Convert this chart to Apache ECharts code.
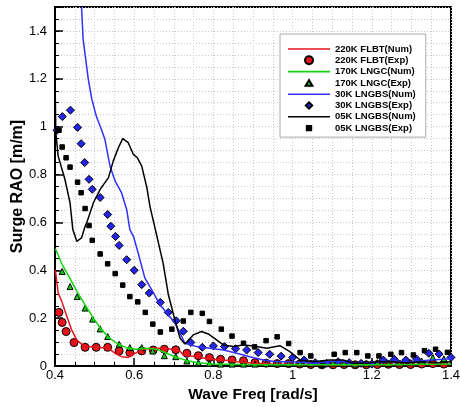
<!DOCTYPE html>
<html>
<head>
<meta charset="utf-8">
<script src="https://cdn.jsdelivr.net/npm/echarts@6/dist/echarts.min.js"></script>
<style>
  html, body { margin: 0; padding: 0; background: #fff; }
  #chart { width: 460px; height: 407px; }
</style>
</head>
<body>
<div id="chart"></div>
<script>
// 220K FLBT
var flbtNumFreq = [0.401, 0.402, 0.408, 0.417, 0.43, 0.442, 0.455, 0.472, 0.505, 0.535, 0.552, 0.568, 0.585, 0.602, 0.623, 0.648, 0.682, 0.716, 0.724, 0.758, 0.791, 0.825, 0.859, 0.901, 0.943, 1.0, 1.1, 1.2, 1.3, 1.4];
var flbtNumRao  = [0.4, 0.395, 0.305, 0.27, 0.207, 0.151, 0.109, 0.084, 0.078, 0.074, 0.053, 0.039, 0.036, 0.053, 0.07, 0.074, 0.074, 0.062, 0.046, 0.039, 0.028, 0.025, 0.018, 0.011, 0.008, 0.006, 0.005, 0.005, 0.006, 0.006];
var flbtExpFreq = [0.41, 0.418, 0.428, 0.448, 0.476, 0.504, 0.533, 0.562, 0.589, 0.619, 0.648, 0.676, 0.705, 0.733, 0.762, 0.79, 0.818, 0.847, 0.876, 0.905, 0.933, 0.961, 0.99, 1.018, 1.046, 1.074, 1.102, 1.13, 1.158, 1.186, 1.214, 1.242, 1.27, 1.298, 1.326, 1.354, 1.382];
var flbtExpRao  = [0.224, 0.182, 0.144, 0.098, 0.078, 0.078, 0.078, 0.063, 0.056, 0.063, 0.067, 0.07, 0.068, 0.053, 0.043, 0.035, 0.028, 0.025, 0.022, 0.014, 0.012, 0.01, 0.01, 0.008, 0.006, 0.005, 0.005, 0.006, 0.005, 0.005, 0.006, 0.007, 0.006, 0.006, 0.008, 0.01, 0.008];

// 170K LNGC
var lngcNumFreq = [0.401, 0.418, 0.438, 0.456, 0.476, 0.495, 0.514, 0.535, 0.556, 0.581, 0.606, 0.632, 0.657, 0.682, 0.707, 0.73, 0.76, 0.8, 0.9, 1.0, 1.1, 1.2, 1.3, 1.4];
var lngcNumRao  = [0.49, 0.425, 0.365, 0.31, 0.255, 0.205, 0.16, 0.12, 0.095, 0.076, 0.07, 0.074, 0.07, 0.053, 0.036, 0.024, 0.014, 0.008, 0.005, 0.005, 0.006, 0.005, 0.006, 0.008];
var lngcExpFreq = [0.418, 0.438, 0.456, 0.476, 0.495, 0.514, 0.533, 0.562, 0.589, 0.619, 0.647, 0.676, 0.705, 0.733, 0.762, 0.79, 0.818, 0.847, 0.876, 0.905, 0.933, 0.961, 0.99, 1.018, 1.046, 1.074, 1.102, 1.13, 1.158, 1.186, 1.214, 1.242, 1.27, 1.298, 1.326, 1.354, 1.382];
var lngcExpRao  = [0.395, 0.332, 0.29, 0.242, 0.196, 0.155, 0.123, 0.091, 0.077, 0.077, 0.063, 0.043, 0.039, 0.021, 0.014, 0.011, 0.008, 0.008, 0.008, 0.008, 0.01, 0.012, 0.01, 0.012, 0.01, 0.008, 0.012, 0.01, 0.008, 0.01, 0.014, 0.01, 0.012, 0.014, 0.02, 0.035, 0.03];

// 30K LNGBS
var bs30NumFreq = [0.467, 0.471, 0.484, 0.493, 0.505, 0.514, 0.526, 0.539, 0.552, 0.568, 0.581, 0.589, 0.598, 0.61, 0.627, 0.644, 0.665, 0.686, 0.703, 0.716, 0.728, 0.758, 0.791, 0.825, 0.859, 0.892, 0.926, 0.96, 0.993, 1.03, 1.06, 1.1, 1.13, 1.16, 1.2, 1.25, 1.3, 1.35, 1.4];
var bs30NumRao  = [1.5, 1.366, 1.199, 1.115, 1.04, 1.003, 0.947, 0.835, 0.772, 0.724, 0.654, 0.57, 0.542, 0.472, 0.367, 0.319, 0.256, 0.214, 0.179, 0.137, 0.095, 0.081, 0.074, 0.067, 0.053, 0.039, 0.025, 0.018, 0.018, 0.015, 0.012, 0.02, 0.018, 0.012, 0.015, 0.02, 0.018, 0.025, 0.03];
var bs30ExpFreq = [0.405, 0.4185, 0.439, 0.457, 0.466, 0.475, 0.486, 0.494, 0.514, 0.533, 0.541, 0.553, 0.562, 0.581, 0.6, 0.619, 0.638, 0.666, 0.686, 0.706, 0.724, 0.743, 0.772, 0.8, 0.828, 0.856, 0.884, 0.913, 0.942, 0.971, 1.0, 1.029, 1.057, 1.086, 1.115, 1.143, 1.173, 1.2, 1.229, 1.257, 1.286, 1.313, 1.344, 1.37, 1.4];
var bs30ExpRao  = [0.985, 1.042, 1.069, 0.997, 0.929, 0.85, 0.78, 0.738, 0.704, 0.633, 0.584, 0.541, 0.504, 0.444, 0.4, 0.34, 0.305, 0.266, 0.224, 0.189, 0.145, 0.098, 0.078, 0.084, 0.081, 0.072, 0.067, 0.056, 0.049, 0.041, 0.035, 0.025, 0.014, 0.011, 0.018, 0.014, 0.011, 0.008, 0.025, 0.028, 0.025, 0.029, 0.053, 0.05, 0.036];

// 05K LNGBS
var bs05NumFreq = [0.4, 0.401, 0.402, 0.408, 0.425, 0.438, 0.445, 0.455, 0.467, 0.476, 0.48, 0.497, 0.514, 0.535, 0.547, 0.56, 0.571, 0.585, 0.598, 0.608, 0.619, 0.632, 0.64, 0.652, 0.673, 0.686, 0.703, 0.716, 0.728, 0.749, 0.77, 0.787, 0.808, 0.825, 0.85, 0.876, 0.901, 0.935, 0.968, 0.993, 1.019, 1.052, 1.094, 1.128, 1.153, 1.187, 1.212, 1.246, 1.288, 1.33, 1.364, 1.4];
var bs05NumRao  = [1.2, 1.1, 0.975, 0.877, 0.78, 0.682, 0.57, 0.521, 0.535, 0.584, 0.598, 0.682, 0.738, 0.787, 0.856, 0.912, 0.95, 0.933, 0.884, 0.87, 0.835, 0.745, 0.665, 0.58, 0.43, 0.3, 0.19, 0.116, 0.092, 0.13, 0.144, 0.134, 0.109, 0.088, 0.081, 0.088, 0.084, 0.074, 0.085, 0.06, 0.025, 0.018, 0.025, 0.025, 0.011, 0.011, 0.018, 0.018, 0.014, 0.018, 0.014, 0.018];
var bs05ExpFreq = [0.41, 0.418, 0.428, 0.438, 0.457, 0.466, 0.476, 0.486, 0.494, 0.514, 0.533, 0.552, 0.571, 0.589, 0.609, 0.628, 0.647, 0.666, 0.695, 0.724, 0.743, 0.772, 0.79, 0.82, 0.847, 0.876, 0.904, 0.933, 0.961, 0.99, 1.019, 1.046, 1.076, 1.105, 1.133, 1.162, 1.19, 1.218, 1.248, 1.275, 1.305, 1.333, 1.361, 1.391];
var bs05ExpRao  = [0.985, 0.915, 0.87, 0.831, 0.768, 0.724, 0.658, 0.587, 0.525, 0.468, 0.427, 0.386, 0.338, 0.29, 0.268, 0.224, 0.175, 0.142, 0.154, 0.188, 0.224, 0.22, 0.186, 0.154, 0.125, 0.095, 0.08, 0.106, 0.122, 0.094, 0.056, 0.042, 0.004, 0.049, 0.056, 0.056, 0.042, 0.042, 0.049, 0.056, 0.046, 0.064, 0.07, 0.057];

var xTicks = [0.4, 0.6, 0.8, 1, 1.2, 1.4];
var yTicks = [0, 0.2, 0.4, 0.6, 0.8, 1, 1.2, 1.4];

function pairs(xs, ys) {
  return xs.map(function (x, i) { return [x, ys[i]]; });
}

var chart = echarts.init(document.getElementById('chart'), null, { renderer: 'canvas' });
var font = "'Liberation Sans', Arial, sans-serif";
var gridLine = { show: true, lineStyle: { color: '#c8c8c8', type: [1, 2], width: 1 } };

// legend icons: 8x8 box made by the two bare moveTo's, shape drawn inside it
var iconLine = 'path://M0,0H42V1.6H0Z';
var iconTri = 'path://M0,0M8,8M4,1.2L7.4,6.8H0.6Z';
var iconDia = 'path://M0,0M8,8M4,0.8L7.2,4L4,7.2L0.8,4Z';
var iconSq = 'path://M0,0M8,8M1.8,1.8H6.2V6.2H1.8Z';

function lineSeries(name, color, xs, ys) {
  return {
    name: name, type: 'line', xAxisIndex: 0, yAxisIndex: 0,
    data: pairs(xs, ys), symbol: 'none', smooth: false,
    lineStyle: { color: color, width: 1.5 }, itemStyle: { color: color }
  };
}
function expSeries(name, symbol, size, color, xs, ys) {
  return {
    name: name, type: 'scatter', xAxisIndex: 0, yAxisIndex: 0,
    data: pairs(xs, ys), symbol: symbol, symbolSize: size,
    itemStyle: { color: color, borderColor: '#000', borderWidth: 1, opacity: 1 }
  };
}

var option = {
  animation: false,
  textStyle: { fontFamily: font },
  grid: { left: 55, right: 9, top: 7, bottom: 41, outerBoundsMode: 'none', containLabel: false,
          show: true, borderColor: '#000', borderWidth: 2, backgroundColor: 'transparent' },
  legend: {
    orient: 'vertical', left: 280, top: 34,
    itemWidth: 42, itemHeight: 8, itemGap: 1.3,
    padding: [10, 10, 4, 8],
    borderColor: '#aaa', borderWidth: 1, backgroundColor: '#fff',
    textStyle: { fontFamily: font, fontWeight: 'bold', fontSize: 9.5, color: '#000' },
    data: [
      { name: '220K FLBT(Num)', icon: iconLine },
      { name: '220K FLBT(Exp)', icon: 'circle' },
      { name: '170K LNGC(Num)', icon: iconLine },
      { name: '170K LNGC(Exp)', icon: iconTri },
      { name: '30K LNGBS(Num)', icon: iconLine },
      { name: '30K LNGBS(Exp)', icon: iconDia },
      { name: '05K LNGBS(Num)', icon: iconLine },
      { name: '05K LNGBS(Exp)', icon: iconSq }
    ]
  },
  xAxis: {
    type: 'value', min: 0.4, max: 1.4, interval: 0.2,
    name: 'Wave Freq [rad/s]', nameLocation: 'middle', nameGap: 21,
    nameTextStyle: { fontFamily: font, fontWeight: 'bold', fontSize: 15.5, color: '#000' },
    axisLine: { show: true, onZero: false, lineStyle: { color: '#000', width: 2 } },
    axisTick: { show: true, inside: true, length: 8, lineStyle: { color: '#000', width: 1.5 } },
    minorTick: { show: true, splitNumber: 4, length: 4, lineStyle: { color: '#000', width: 1 } },
    splitLine: gridLine, minorSplitLine: gridLine,
    axisLabel: {
      fontFamily: font, fontSize: 13, color: '#000', margin: 3,
      formatter: function (v) { return xTicks.indexOf(+v.toFixed(2)) >= 0 ? String(+v.toFixed(2)) : ''; }
    }
  },
  yAxis: [{
    type: 'value', min: 0, max: 1.5, interval: 0.05,
    name: 'Surge RAO [m/m]', nameLocation: 'middle', nameGap: 29, nameMoveOverlap: false,
    nameTextStyle: { fontFamily: font, fontWeight: 'bold', fontSize: 16, color: '#000' },
    axisLine: { show: true, onZero: false, lineStyle: { color: '#000', width: 2 } },
    axisTick: { show: true, inside: true, length: 4, lineStyle: { color: '#000', width: 1 } },
    splitLine: gridLine,
    axisLabel: {
      fontFamily: font, fontSize: 13, color: '#000', margin: 8,
      formatter: function (v) { var r = +v.toFixed(2); return yTicks.indexOf(r) >= 0 ? String(r) : ''; }
    }
  }, {
    type: 'value', min: 0, max: 1.5, interval: 0.2, position: 'left',
    axisLine: { show: false },
    axisTick: { show: true, inside: true, length: 8, lineStyle: { color: '#000', width: 1.5 } },
    splitLine: { show: false },
    axisLabel: { show: false }
  }],
  series: [
    lineSeries('220K FLBT(Num)', '#e8141b', flbtNumFreq, flbtNumRao),
    expSeries('220K FLBT(Exp)', 'circle', 8, '#e8141b', flbtExpFreq, flbtExpRao),
    lineSeries('170K LNGC(Num)', '#14d214', lngcNumFreq, lngcNumRao),
    expSeries('170K LNGC(Exp)', 'triangle', 6, '#14c814', lngcExpFreq, lngcExpRao),
    lineSeries('30K LNGBS(Num)', '#3030ff', bs30NumFreq, bs30NumRao),
    expSeries('30K LNGBS(Exp)', 'diamond', 8, '#2424ee', bs30ExpFreq, bs30ExpRao),
    lineSeries('05K LNGBS(Num)', '#000', bs05NumFreq, bs05NumRao),
    expSeries('05K LNGBS(Exp)', 'rect', 4.5, '#000', bs05ExpFreq, bs05ExpRao)
  ]
};
chart.setOption(option);
</script>
</body>
</html>
